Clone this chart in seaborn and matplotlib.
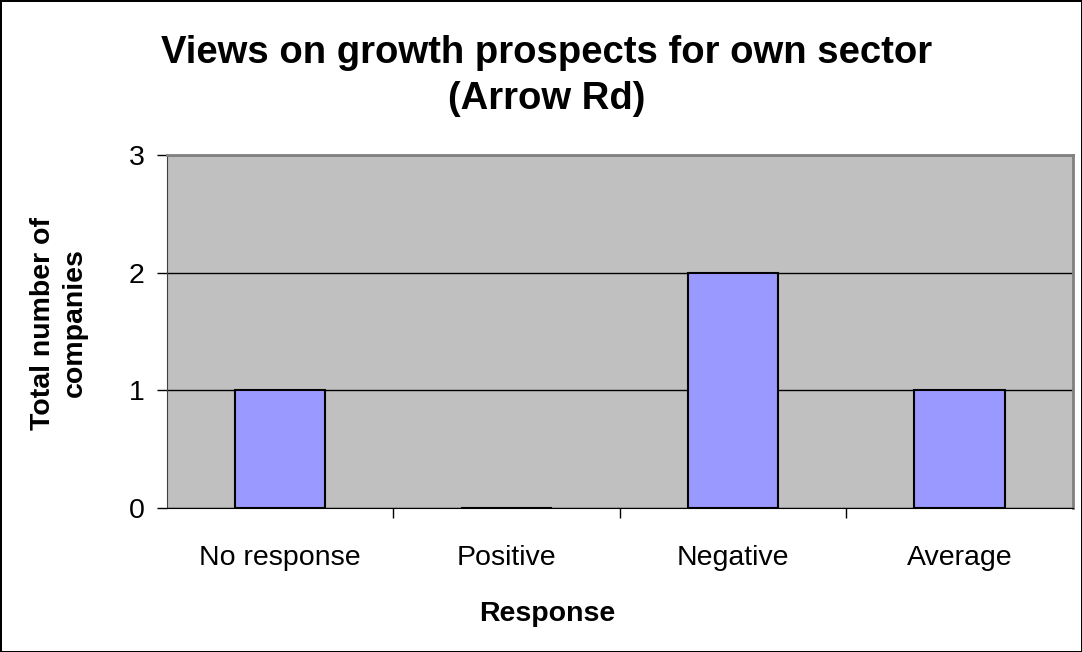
import matplotlib
matplotlib.use("Agg")
import matplotlib.pyplot as plt
import seaborn as sns
import pandas as pd

# values
categories = ["No response", "Positive", "Negative", "Average"]
counts = [1, 0, 2, 1]
y_ticks = [0, 1, 2, 3]

sns.set_style("white")
plt.rcParams["font.family"] = ["Liberation Sans", "DejaVu Sans"]
plt.rcParams["text.color"] = "black"
plt.rcParams["xtick.color"] = "black"
plt.rcParams["ytick.color"] = "black"

df = pd.DataFrame({"Response": categories, "Companies": counts})

fig = plt.figure(figsize=(10.82, 6.52), dpi=100, edgecolor="black", linewidth=2)
ax = fig.add_axes([0.1543, 0.2209, 0.8373, 0.5414])

ax.set_facecolor("#C0C0C0")
ax.set_axisbelow(True)
ax.yaxis.grid(True, color="black", linewidth=1)

sns.barplot(data=df, x="Response", y="Companies", color="#9999FF",
            edgecolor="black", linewidth=1.5, width=0.4, saturation=1, ax=ax)

ax.set_ylim(0, 3)
ax.set_xlim(-0.5, len(categories) - 0.5)
ax.set_yticks(y_ticks)
ax.set_xlabel("")
ax.set_ylabel("")

# category separators as ticks on the x axis
ax.set_xticks([i + 0.5 for i in range(len(categories) - 1)], minor=True)
ax.tick_params(axis="x", which="major", length=0, pad=27, labelsize=20.5, labelcolor="black")
ax.tick_params(axis="x", which="minor", bottom=True, length=7, width=1, color="black", direction="out")
ax.tick_params(axis="y", length=7, width=1, color="black", direction="out", pad=9,
               labelsize=20.5, labelcolor="black", left=True)

for side in ["top", "right"]:
    ax.spines[side].set_visible(True)
    ax.spines[side].set_color("#808080")
    ax.spines[side].set_linewidth(2)
ax.spines["left"].set_color("#404040")
ax.spines["bottom"].set_color("black")

fig.text(0.5055, 1 - 35 / 652,
         "Views on growth prospects for own sector\n(Arrow Rd)",
         ha="center", va="top", fontsize=27.5, fontweight="bold", linespacing=1.37)
fig.text(0.5055, 1 - 614 / 652, "Response", ha="center", va="center",
         fontsize=20.5, fontweight="bold")
fig.text(59 / 1082, 1 - 323 / 652, "Total number of\ncompanies", ha="center",
         va="center", rotation=90, fontsize=20.5, fontweight="bold",
         multialignment="center", linespacing=1.3)

fig.savefig("out.png", dpi=100)
